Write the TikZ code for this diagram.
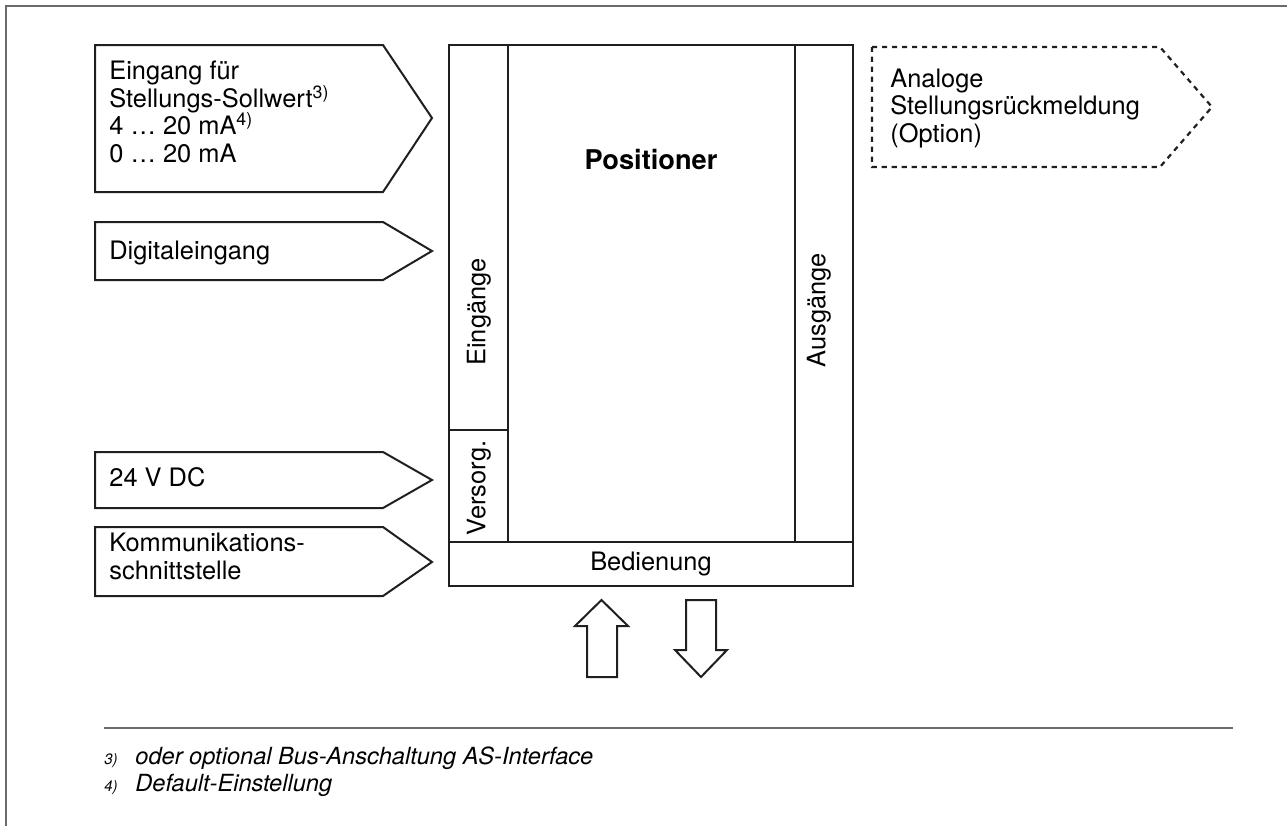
\documentclass[tikz,border=0pt]{standalone}
\usepackage{fontspec}
\setmainfont{TeX Gyre Heros}

\begin{document}
\begin{tikzpicture}[
  x=0.5pt,
  y=-0.5pt,
  font=\fontsize{12.7}{13.75}\selectfont,
  frameline/.style={draw=black!58,line width=1pt},
  line/.style={draw=black!88,line width=1pt},
  dashline/.style={line,line width=1.1pt,dash pattern=on 2.6pt off 2.4pt},
  txt/.style={anchor=base west,align=left,inner sep=0pt},
  vtxt/.style={rotate=90,inner sep=0pt},
  note/.style={txt,font=\fontsize{11.8}{13}\selectfont\itshape},
  notemark/.style={txt,font=\fontsize{7.5}{8}\selectfont\itshape}
]
\useasboundingbox (0,0) rectangle (1287,826);

% Page frame
\draw[frameline] (5,6) -- (1287,6);
\draw[frameline] (6,5) -- (6,826);

% Input signals (multi-line texts sit on their last baseline)
\draw[line] (95,45) -- (383,45) -- (432,118) -- (383,192) -- (95,192) -- cycle;
\node[txt] (sollwert) at (109,162)
  {Eingang für\\Stellungs-Sollwert\textsuperscript{3)}\\4 … 20 mA\textsuperscript{4)}\\0 … 20 mA};

\draw[line] (95,222) -- (383,222) -- (432,251) -- (383,280) -- (95,280) -- cycle;
\node[txt] (digital) at (109,259) {Digitaleingang};

\draw[line] (95,452) -- (383,452) -- (432,480) -- (383,508) -- (95,508) -- cycle;
\node[txt] (supply) at (109,486) {24 V DC};

\draw[line] (95,527) -- (383,527) -- (432,562) -- (383,596) -- (95,596) -- cycle;
\node[txt] (comm) at (109,579) {Kommunikations-\\schnittstelle};

% Optional output signal
\draw[dashline] (872,47) -- (1160,47) -- (1212,107) -- (1160,167) -- (872,167) -- cycle;
\node[txt] (feedback) at (890,142) {Analoge\\Stellungsrückmeldung\\(Option)};

% Positioner block
\draw[line] (449,45) rectangle (853,586);
\draw[line] (508,45) -- (508,542);
\draw[line] (795,45) -- (795,542);
\draw[line] (449,430) -- (508,430);
\draw[line] (449,542) -- (853,542);

\node[anchor=base,inner sep=0pt,font=\fontsize{13.6}{15}\selectfont\bfseries]
  (positioner) at (651,169) {Positioner};
\node[vtxt] (inputs) at (479,312) {Eingänge};
\node[vtxt] (power) at (479,488) {Versorg.};
\node[vtxt] (outputs) at (819,310) {Ausgänge};
\node[inner sep=0pt] (operation) at (651,564) {Bedienung};

% Operation arrows
\draw[line] (601.5,600) -- (628,626) -- (617,626) -- (617,677)
  -- (587,677) -- (587,626) -- (575,626) -- cycle;
\draw[line] (686,600) -- (716,600) -- (716,650) -- (727,650)
  -- (701,677) -- (675,650) -- (686,650) -- cycle;

% Footnotes
\draw[frameline] (104,728) -- (1233,728);
\node[notemark] (mark3) at (104,764) {3)};
\node[note] (note3) at (135,764) {oder optional Bus-Anschaltung AS-Interface};
\node[notemark] (mark4) at (104,791) {4)};
\node[note] (note4) at (135,791) {Default-Einstellung};

\end{tikzpicture}
\end{document}
